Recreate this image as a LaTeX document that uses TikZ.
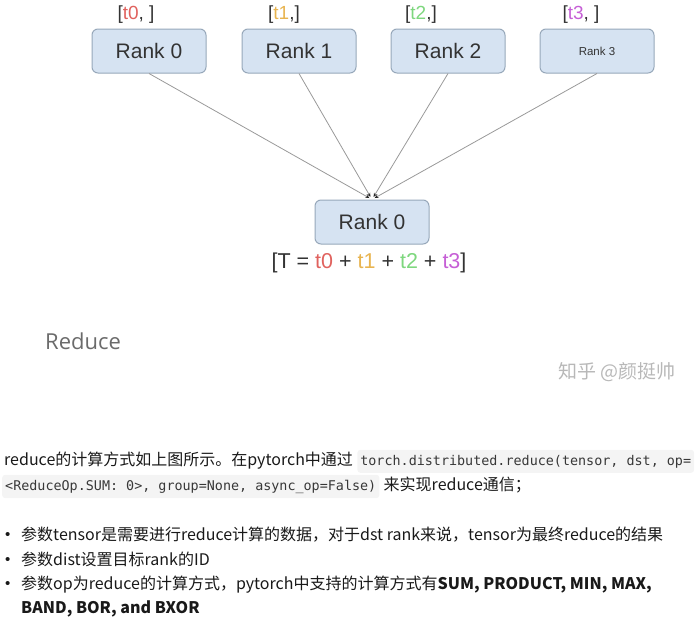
\documentclass[tikz,border=0pt]{standalone}
\usepackage{fontspec}
\setmainfont{Liberation Sans}
\newfontfamily\cjk{Noto Sans CJK SC}
\newfontfamily\mono{DejaVu Sans Mono}
\newfontfamily\headfont{Open Sans}
\usetikzlibrary{arrows.meta, positioning}

\definecolor{rankfill}{HTML}{D6E3F2}
\definecolor{rankline}{HTML}{97A8BA}
\definecolor{tzero}{HTML}{E0625E}
\definecolor{tone}{HTML}{E8B450}
\definecolor{ttwo}{HTML}{7ED77E}
\definecolor{tthree}{HTML}{C65FD6}
\definecolor{codebg}{HTML}{F4F4F4}

\begin{document}
\begin{tikzpicture}[
    x=1pt, y=-1pt,
    rank/.style={
        draw=rankline, fill=rankfill, rounded corners=6pt, line width=1pt,
        minimum width=114pt, minimum height=44pt, text=black!80,
        font=\fontsize{21}{24}\selectfont
    },
    tag/.style={text=black!80, font=\fontsize{19}{22}\selectfont, inner sep=0pt},
    link/.style={-{Stealth[length=4pt, width=3.5pt]}, draw=black!40, line width=0.8pt,
        shorten >=3pt},
    para/.style={anchor=base west, inner sep=0pt, text=black!90,
        font=\cjk\fontsize{16}{19}\selectfont},
    dot/.style={anchor=base west, inner sep=0pt, text=black!90,
        font=\fontsize{15}{18}\selectfont},
    code/.style={anchor=base west, fill=codebg, rounded corners=3pt, text=black!78,
        inner xsep=3pt, inner ysep=5pt, font=\mono\fontsize{13.4}{16}\selectfont}
]
\useasboundingbox (0,0) rectangle (695,637);

% ranks before the reduce
\node[rank] (r0) at (149,51) {Rank 0};
\node[rank] (r1) at (299,51) {Rank 1};
\node[rank] (r2) at (448,51) {Rank 2};
\node[rank, font=\fontsize{11.5}{14}\selectfont] (r3) at (597,51) {Rank 3};

\node[tag] (t0) at (136,15) {[\textcolor{tzero}{t0}, ]};
\node[tag] (t1) at (284,15) {[\textcolor{tone}{t1},]};
\node[tag] (t2) at (421,15) {[\textcolor{ttwo}{t2},]};
\node[tag] (t3) at (581,15) {[\textcolor{tthree}{t3}, ]};

% destination rank
\node[rank] (dst) at (372,222) {Rank 0};
\node[tag, font=\fontsize{21.5}{25}\selectfont] (sum) at (369,263)
    {[T = \textcolor{tzero}{t0} + \textcolor{tone}{t1} + \textcolor{ttwo}{t2} + \textcolor{tthree}{t3}]};

\foreach \r in {r0, r1, r2, r3}
    \draw[link, arrows={-{Stealth[length=4pt, width=3.5pt, black!85]}}] (\r.south) -- (dst.north);

\node[anchor=base west, inner sep=0pt, text=black!58, font=\headfont\fontsize{22}{26}\selectfont]
    (title) at (45,349) {Reduce};
\node[anchor=base east, inner sep=0pt, text=black!28, font=\cjk\fontsize{19}{22}\selectfont]
    (mark) at (676,378) {知乎 @颜挺帅};

% text below the picture
\node[para] (l1) at (4,465) {reduce的计算方式如上图所示。在pytorch中通过};
\node[code] (c1) at ([xshift=4pt]l1.base east) {torch.distributed.reduce(tensor, dst, op=};
\node[code] (c2) at (2,490) {<ReduceOp.SUM: 0>, group=None, async\_op=False)};
\node[para] (l2) at ([xshift=4pt]c2.base east) {来实现reduce通信；};

\node[dot] (b1) at (5,539) {\textbullet};
\node[para] (p1) at (21,540) {参数tensor是需要进行reduce计算的数据，对于dst rank来说，tensor为最终reduce的结果};
\node[dot] (b2) at (5,564) {\textbullet};
\node[para] (p2) at (21,565) {参数dist设置目标rank的ID};
\node[dot] (b3) at (5,588) {\textbullet};
\node[para] (p3) at (21,589) {参数op为reduce的计算方式，pytorch中支持的计算方式有\textbf{SUM, PRODUCT, MIN, MAX,}};
\node[para] (p4) at (21,613) {\textbf{BAND, BOR, and BXOR}};
\end{tikzpicture}
\end{document}
